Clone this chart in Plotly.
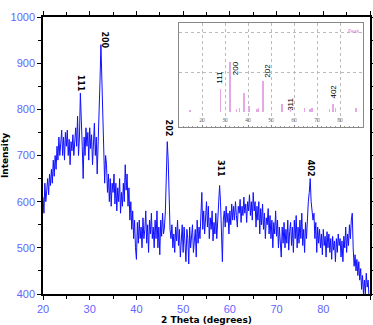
import plotly.graph_objects as go

# ---- main XRD pattern (2 theta from 20 to 90, step 0.2) ----
two_theta_start = 20.0
two_theta_step = 0.2
intensity = [
    610, 575, 640, 600, 625,
    650, 615, 660, 635, 670,
    640, 690, 655, 700, 670,
    720, 690, 740, 700, 730,
    755, 700, 740, 690, 750,
    720, 755, 700, 735, 680,
    730, 710, 745, 700, 735,
    760, 720, 785, 700, 740,
    835, 790, 720, 650, 740,
    700, 760, 720, 750, 690,
    760, 715, 745, 680, 730,
    770, 700, 740, 660, 720,
    760, 860, 940, 870, 780,
    690, 640, 700, 680, 620,
    660, 600, 650, 590, 640,
    620, 660, 595, 640, 580,
    630, 600, 650, 575, 620,
    590, 640, 600, 680, 625,
    660, 590, 630, 560, 600,
    540, 580, 520, 560, 500,
    475, 555, 510, 560, 520,
    545, 500, 565, 520, 540,
    580, 510, 550, 490, 560,
    530, 575, 520, 545, 500,
    560, 520, 580, 500, 545,
    485, 560, 525, 575, 530,
    545, 580, 700, 730, 690,
    600, 540, 520, 550, 500,
    530, 490, 545, 515, 560,
    505, 540, 480, 530, 550,
    490, 545, 510, 470, 540,
    520, 465, 545, 500, 530,
    550, 490, 520, 540, 480,
    560, 510, 545, 520, 560,
    620, 540, 580, 530, 560,
    600, 545, 590, 520, 565,
    540, 580, 515, 555, 530,
    575, 520, 560, 600, 635,
    600, 540, 470, 560, 580,
    545, 590, 555, 575, 530,
    580, 550, 595, 560, 590,
    560, 600, 570, 545, 590,
    575, 605, 555, 590, 570,
    610, 575, 595, 555, 600,
    580, 615, 570, 600, 560,
    620, 580, 600, 545, 590,
    560, 600, 530, 585, 550,
    595, 540, 575, 520, 565,
    550, 585, 530, 570, 520,
    560, 500, 555, 530, 580,
    525, 560, 500, 545, 520,
    480, 545, 510, 555, 500,
    540, 510, 560, 495, 535,
    555, 505, 545, 490, 560,
    520, 570, 500, 545, 510,
    560, 520, 575, 505, 540,
    490, 555, 520, 580, 600,
    620, 650, 600, 585, 560,
    575, 520, 555, 490, 545,
    510, 540, 500, 530, 485,
    540, 505, 525, 480, 535,
    500, 530, 490, 520, 475,
    525, 495, 515, 470, 520,
    490, 530, 505, 520, 480,
    515, 470, 525, 500, 545,
    490, 530, 505, 550, 520,
    560, 575, 500, 460, 485,
    450, 475, 440, 470, 430,
    455, 410, 440, 400, 430,
    400, 445, 415, 430, 390,
    400,
]
two_theta = [round(two_theta_start + i * two_theta_step, 1) for i in range(len(intensity))]

# ---- peak labels on main chart ----
peak_labels = ["111", "200", "202", "311", "402"]
peak_label_x = [28.1, 33.2, 46.8, 57.9, 77.2]
peak_label_y = [856, 950, 760, 673, 673]

# ---- inset reference pattern (stick lines) ----
ref_pos = [14.7, 28.1, 32.3, 35.0, 36.3, 38.2, 40.5, 44.0, 44.6, 46.4, 54.9,
           58.4, 64.6, 67.0, 67.8, 75.4, 76.8, 78.0, 86.8]
ref_height = [2, 23, 50, 3, 4, 19, 6, 3, 4, 31, 8,
              2, 4, 3, 4, 3, 8, 4, 4]
inset_labels = ["111", "200", "202", "311", "402"]
inset_label_x = [27.2, 34.4, 48.1, 58.6, 76.7]
inset_label_y = [35, 44, 41, 8, 20]

tick_blue = "#6464ff"

fig = go.Figure()

fig.add_trace(go.Scatter(
    x=two_theta, y=intensity, mode="lines",
    line=dict(color="#1010ff", width=1),
    showlegend=False, hoverinfo="skip",
))

fig.add_trace(go.Bar(
    x=ref_pos, y=ref_height, base=0, width=0.3,
    marker=dict(color="#e4a8e4", line=dict(width=0)),
    xaxis="x2", yaxis="y2", showlegend=False, hoverinfo="skip",
))

for t, x, y in zip(peak_labels, peak_label_x, peak_label_y):
    fig.add_annotation(x=x, y=y, text="<b>%s</b>" % t, showarrow=False,
                       textangle=90, font=dict(size=8, color="black",
                                               family="DejaVu Sans"))

for t, x, y in zip(inset_labels, inset_label_x, inset_label_y):
    fig.add_annotation(x=x, y=y, xref="x2", yref="y2", text=t, showarrow=False,
                       textangle=-90, font=dict(size=8, color="black",
                                                family="Liberation Sans"))

# gray band at the bottom of the inset
fig.add_shape(type="rect", xref="x2 domain", yref="y2", x0=0, x1=1, y0=-15, y1=0,
              fillcolor="#c8c8c8", line=dict(width=0), layer="below")
fig.add_annotation(xref="x2 domain", yref="y2 domain", x=0.995, y=0.97,
                   text="Peak", showarrow=False, xanchor="right", yanchor="top",
                   font=dict(size=5, color="#d080d0"))

axis_common = dict(showline=True, linecolor="black", linewidth=1.5, mirror="ticks",
                   ticks="outside", ticklen=4, tickwidth=1.2, tickcolor="black",
                   showgrid=False, zeroline=False, automargin=False,
                   tickfont=dict(size=11, color=tick_blue, family="Liberation Sans"))

fig.update_layout(
    width=373, height=325,
    margin=dict(l=43, r=3, t=17, b=31),
    paper_bgcolor="white", plot_bgcolor="white",
    xaxis=dict(range=[20, 90], dtick=10, tick0=20,
               minor=dict(ticks="outside", dtick=5, ticklen=3, tickcolor="black"),
               title=dict(text="<b>2 Theta (degrees)</b>", standoff=1,
                          font=dict(size=9, color="black", family="DejaVu Sans")),
               **axis_common),
    yaxis=dict(range=[400, 1000], dtick=100,
               minor=dict(ticks="outside", dtick=50, ticklen=3, tickcolor="black"),
               title=dict(text="<b>Intensity</b>", standoff=4,
                          font=dict(size=9, color="black", family="DejaVu Sans")),
               **axis_common),
    xaxis2=dict(domain=[0.416, 0.979], anchor="y2", range=[10, 90],
                tickvals=[20, 30, 40, 50, 60, 70, 80],
                ticks="inside", ticklen=2, tickcolor="#888",
                ticklabelposition="inside",
                tickfont=dict(size=5, color="#666"),
                showgrid=True, gridcolor="#bbbbbb", griddash="dot", gridwidth=1,
                showline=True, linecolor="#888", linewidth=1, mirror=True,
                zeroline=False,
                minor=dict(ticks="inside", dtick=2, ticklen=1, tickcolor="#999")),
    yaxis2=dict(domain=[0.603, 0.978], anchor="x2", range=[-15, 89],
                tickvals=[40, 80], showticklabels=False, ticks="",
                showgrid=True, gridcolor="#bbbbbb", griddash="dot", gridwidth=1,
                showline=True, linecolor="#888", linewidth=1, mirror=True,
                zeroline=False),
    bargap=0,
)

fig.write_html("out.html", config={"displayModeBar": False},
               post_script="document.body.style.margin='0';document.body.style.overflow='hidden';")
